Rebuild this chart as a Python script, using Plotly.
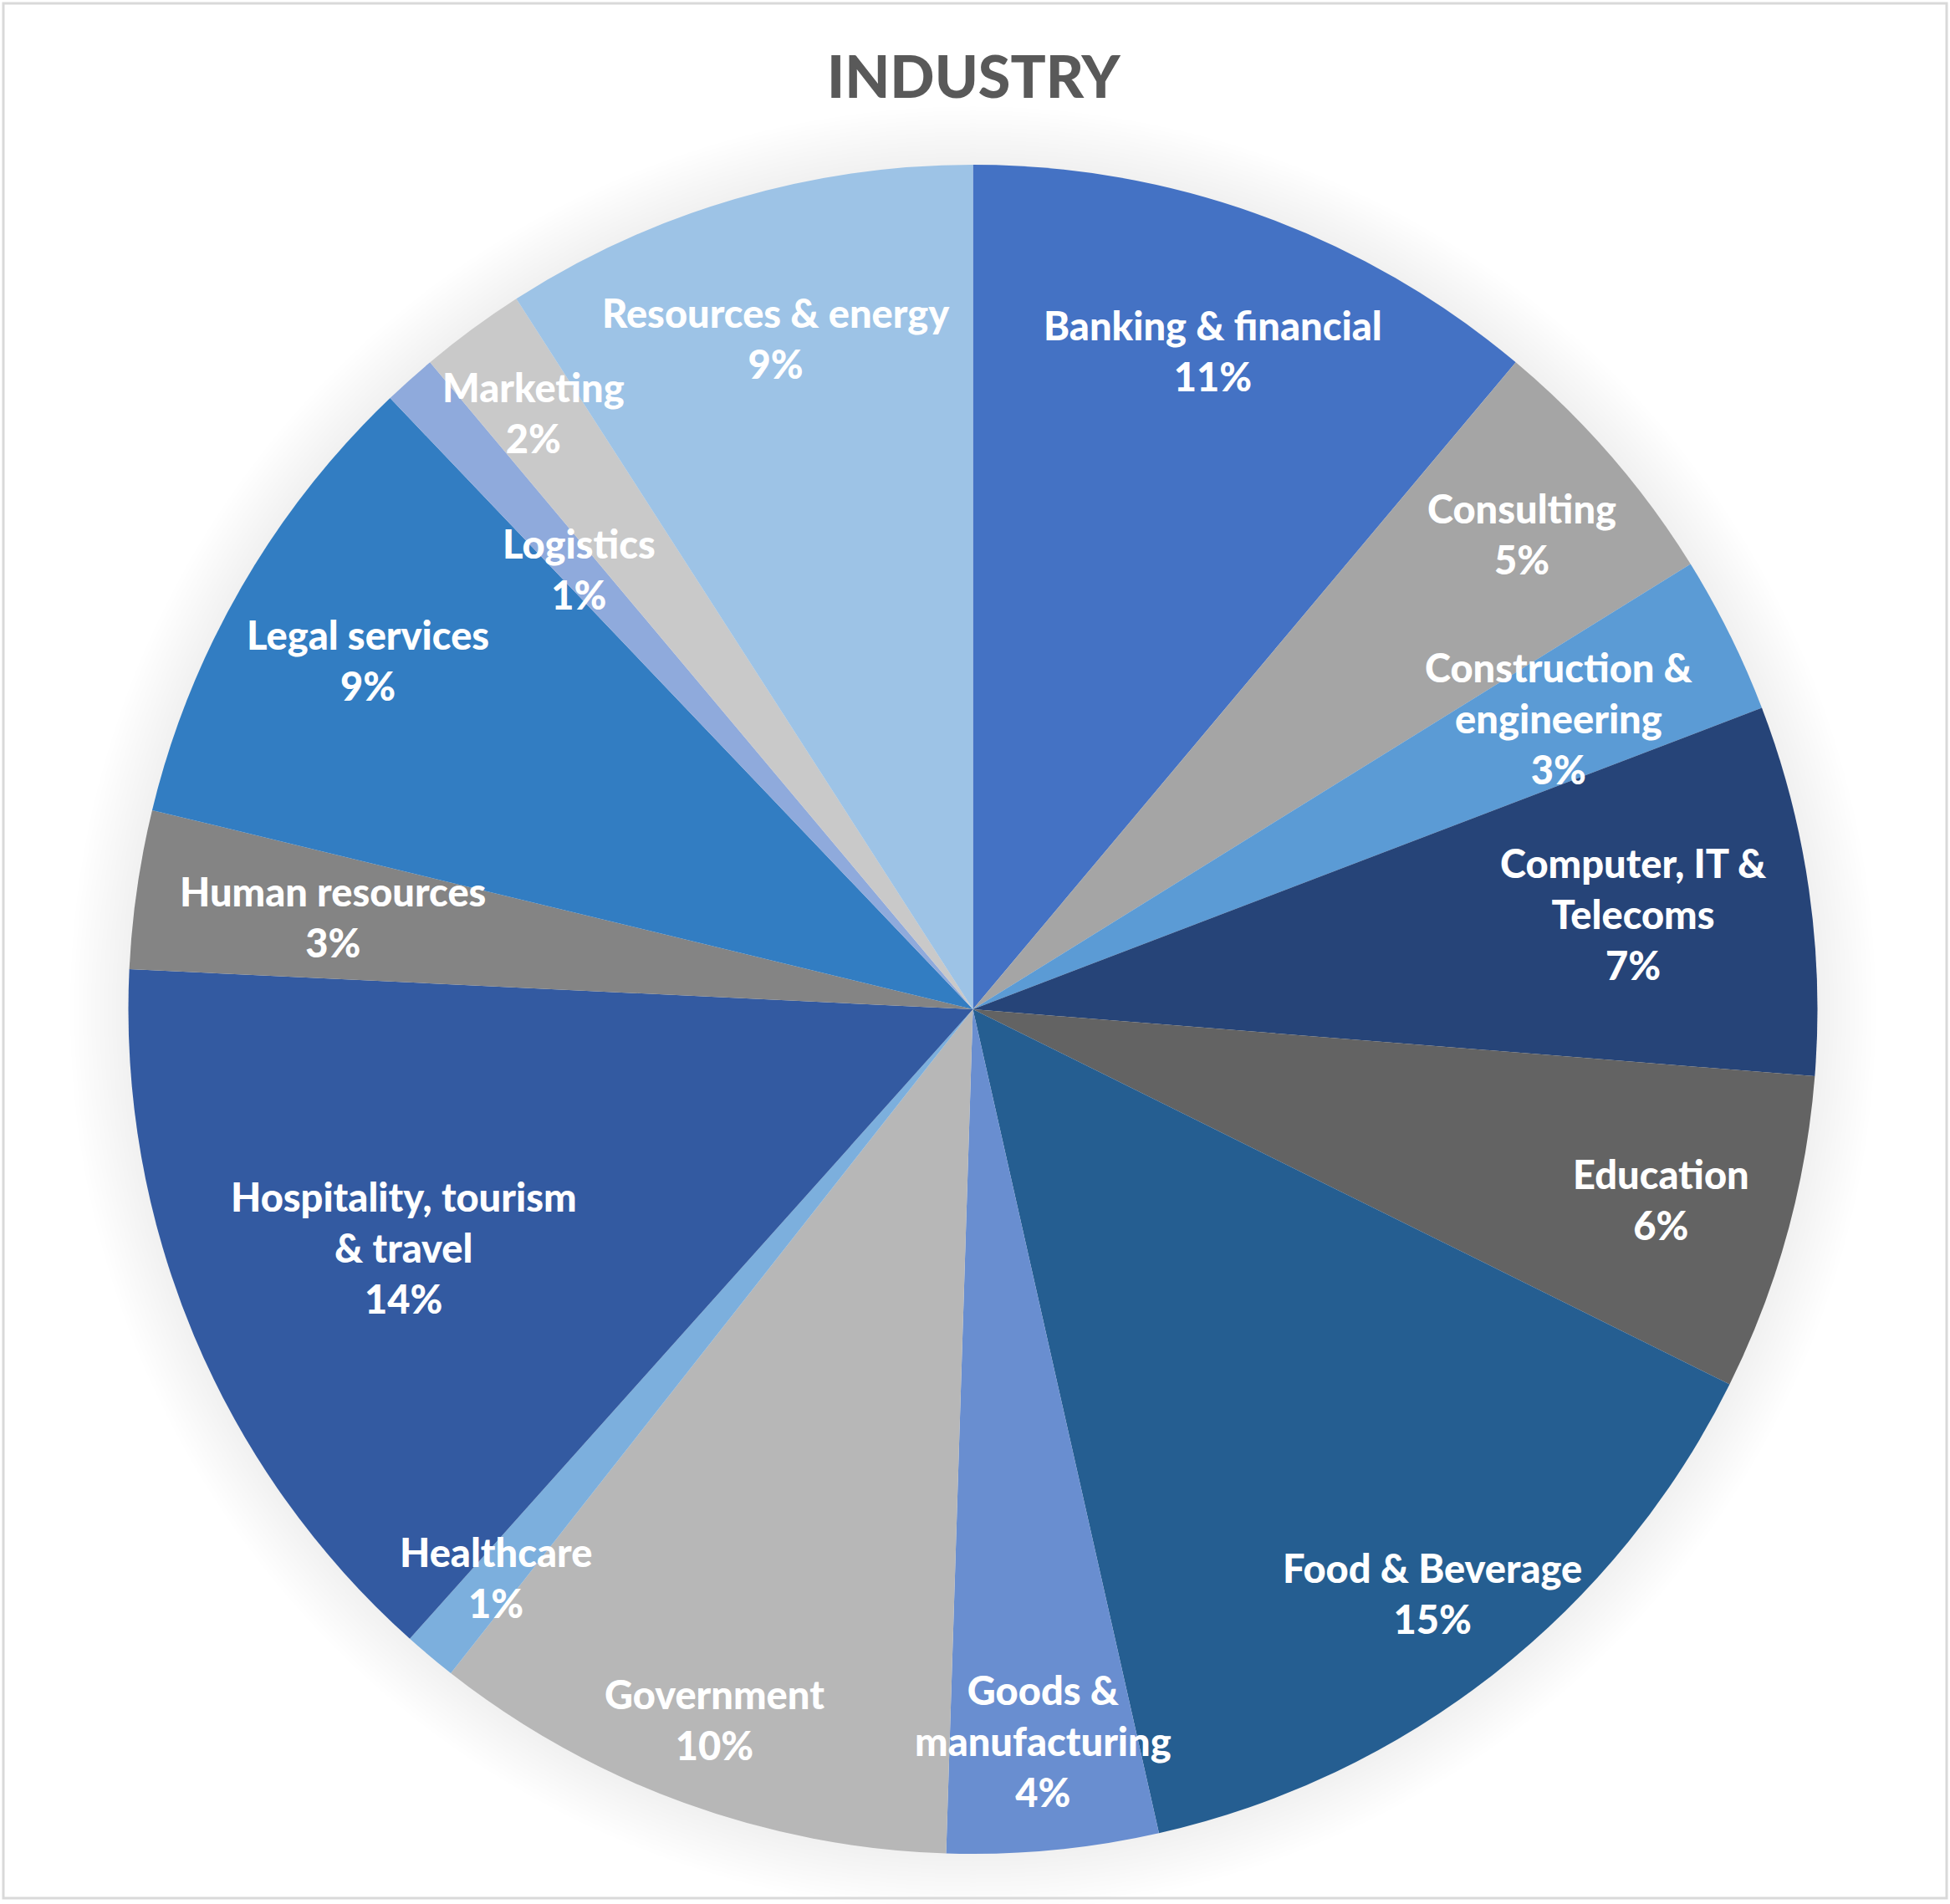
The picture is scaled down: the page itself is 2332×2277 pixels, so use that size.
import numpy as np
import plotly.graph_objects as go

# slice data (respondent counts per industry)
categories = ["Banking & financial", "Consulting", "Construction & engineering",
              "Computer, IT & Telecoms", "Education", "Food & Beverage",
              "Goods & manufacturing", "Government", "Healthcare",
              "Hospitality, tourism & travel", "Human resources", "Legal services",
              "Logistics", "Marketing", "Resources & energy"]
values = [11, 5, 3, 7, 6, 14, 4, 10, 1, 14, 3, 9, 1, 2, 9]
pct_labels = ["11%", "5%", "3%", "7%", "6%", "15%", "4%", "10%", "1%",
              "14%", "3%", "9%", "1%", "2%", "9%"]

# how the names wrap in the data labels
wrapped = {
    "Construction & engineering": "Construction &<br>engineering",
    "Computer, IT & Telecoms": "Computer, IT &<br>Telecoms",
    "Goods & manufacturing": "Goods &<br>manufacturing",
    "Hospitality, tourism & travel": "Hospitality, tourism<br>& travel",
}

colors = ["#4472C4", "#A5A5A5", "#5B9BD5", "#264478", "#636363", "#255E91",
          "#698ED0", "#B7B7B7", "#7CAFDD", "#335AA1", "#848484", "#327DC2",
          "#8FAADC", "#C9C9C9", "#9DC3E6"]

# label distance from centre, as fraction of radius
label_r = [0.83, 0.86, 0.775, 0.79, 0.845, 0.88, 0.87, 0.895, 0.878,
           0.73, 0.766, 0.827, 0.70, 0.877, 0.828]

W, H = 2332, 2277
cx, cy, R = 1163.5, 1207.0, 1010.0
rotation = 0
font_fam = "Lato"

fig = go.Figure()
fig.add_trace(go.Pie(
    labels=categories, values=values, sort=False, direction="clockwise",
    rotation=rotation, marker=dict(colors=colors, line=dict(width=0)),
    textinfo="none", hoverinfo="label+percent", showlegend=False,
    domain=dict(x=[(cx - R) / W, (cx + R) / W], y=[1 - (cy + R) / H, 1 - (cy - R) / H]),
))

# soft glow behind the pie
shapes = []
for k in range(1, 15):
    rr = R + 5 * k
    shapes.append(dict(type="circle", xref="paper", yref="paper", layer="below",
                       x0=(cx - rr) / W, x1=(cx + rr) / W,
                       y0=1 - (cy + rr) / H, y1=1 - (cy - rr) / H,
                       fillcolor="rgba(0,0,0,0.005)", line=dict(width=0)))
# chart area border
shapes.append(dict(type="rect", xref="paper", yref="paper", layer="above",
                   x0=4 / W, x1=(W - 4) / W, y0=1 - 2270 / H, y1=1 - 4 / H,
                   line=dict(color="#D9D9D9", width=3)))

# data labels at slice mid angles
vals = np.array(values, dtype=float)
cum = np.cumsum(vals) - vals / 2
mid = np.deg2rad(rotation + cum / vals.sum() * 360)
annotations = []
for i, name in enumerate(categories):
    px = cx + label_r[i] * R * np.sin(mid[i])
    py = cy - label_r[i] * R * np.cos(mid[i])
    annotations.append(dict(
        x=px / W, y=1 - py / H, xref="paper", yref="paper", showarrow=False,
        text=wrapped.get(name, name) + "<br>" + pct_labels[i],
        font=dict(family=font_fam, size=47, color="white", weight=900),
        xanchor="center", yanchor="middle", align="center"))

annotations.append(dict(
    x=1165 / W, y=1 - 90 / H, xref="paper", yref="paper", showarrow=False,
    text="INDUSTRY", font=dict(family=font_fam, size=70, color="#595959", weight=900),
    xanchor="center", yanchor="middle"))

fig.update_layout(
    width=W, height=H, margin=dict(l=0, r=0, t=0, b=0),
    paper_bgcolor="white", plot_bgcolor="white",
    shapes=shapes, annotations=annotations,
)

# drop the browser's default page margin so the figure sits at 0,0
fig.write_html("out.html", config={"displayModeBar": False},
               post_script="document.body.style.margin='0px';")
